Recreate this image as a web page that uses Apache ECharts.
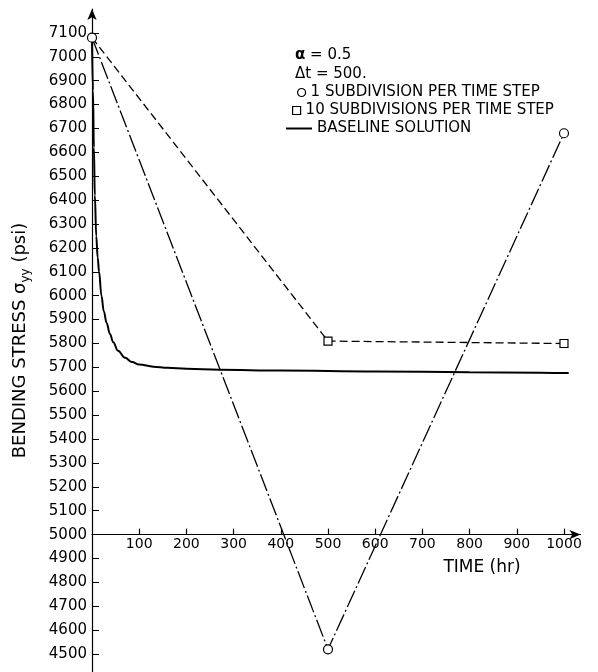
<!DOCTYPE html>
<html>
<head>
<meta charset="utf-8">
<script src="https://cdn.jsdelivr.net/npm/echarts@6/dist/echarts.min.js"></script>
<style>
  html, body { margin: 0; padding: 0; background: #fff; }
  #chart { width: 598px; height: 672px; }
</style>
</head>
<body>
<div id="chart"></div>
<script>
// Time levels (hr) of the coarse time steps
const timeSteps = [0, 500, 1000];
// Bending stress (psi) with 1 subdivision per time step
const oneSubdivision = [7080, 4520, 6680];
// Bending stress (psi) with 10 subdivisions per time step
const tenSubdivisions = [7080, 5810, 5800];

// Baseline (reference) solution
const baselineTime = [0, 2, 4, 6, 9, 12, 15, 20, 25, 31, 38, 45, 55, 70, 85, 100, 130, 160, 200, 270, 400, 600, 800, 1010];
const baselineStress = [7080, 6860, 6620, 6420, 6250, 6160, 6100, 6000, 5935, 5886, 5840, 5805, 5770, 5740, 5722, 5712, 5703, 5698, 5694, 5690, 5687, 5683, 5680, 5676];

// Tick labels
const xTickValues = [100, 200, 300, 400, 500, 600, 700, 800, 900, 1000];
const yTickValues = [4500, 4600, 4700, 4800, 4900, 5000, 5100, 5200, 5300, 5400, 5500, 5600, 5700, 5800, 5900,
                     6000, 6100, 6200, 6300, 6400, 6500, 6600, 6700, 6800, 6900, 7000, 7100];

const seriesNames = ['1 SUBDIVISION PER TIME STEP', '10 SUBDIVISIONS PER TIME STEP', 'BASELINE SOLUTION'];
const paramLines = ['{a|α} = 0.5', 'Δt = 500.'];
const xAxisTitle = 'TIME (hr)';
const yAxisTitle = '{n|BENDING STRESS σ}{s|yy}{n| (psi)}';

// Axis ranges and the stress level where the time axis is drawn
const xMin = 0, xMax = 1035;
const yMin = 4425, yMax = 7200;
const timeAxisLevel = 5000;

const FONT = 'DejaVu Sans';
const INK = '#000';

const gridTop = 9, gridBottom = 0, chartHeight = 672;
const gridHeight = chartHeight - gridTop - gridBottom;
// shift the time axis up from the grid bottom to the 5000 psi level
const timeAxisOffset = -((timeAxisLevel - yMin) / (yMax - yMin)) * gridHeight;

const zip = (xs, ys) => xs.map((x, i) => [x, ys[i]]);
const plain = v => String(v);

const chart = echarts.init(document.getElementById('chart'), null, { renderer: 'canvas' });

const hollow = { color: '#fff', borderColor: INK, borderWidth: 1.2 };
const legendText = { fontFamily: FONT, fontSize: 15, color: INK, lineHeight: 14 };

chart.setOption({
  backgroundColor: '#fff',
  animation: false,
  textStyle: { fontFamily: FONT, color: INK },
  grid: { left: 92, right: 17.5, top: gridTop, bottom: gridBottom, containLabel: false },
  title: {
    text: paramLines.join('\n'),
    left: 295, top: 46, padding: 0,
    textStyle: {
      fontFamily: FONT, fontSize: 15, fontWeight: 'normal', color: INK, lineHeight: 19,
      rich: { a: { fontFamily: FONT, fontSize: 15, fontWeight: 'bold', color: INK, lineHeight: 19 } }
    }
  },
  legend: [
    {
      left: 297, top: 85, orient: 'vertical', selectedMode: false, padding: 0,
      itemWidth: 8, itemHeight: 8, textStyle: legendText,
      data: [{ name: seriesNames[0], icon: 'circle', itemStyle: hollow }]
    },
    {
      left: 292, top: 103, orient: 'vertical', selectedMode: false, padding: 0,
      itemWidth: 8, itemHeight: 8, textStyle: legendText,
      data: [{ name: seriesNames[1], icon: 'path://M0,0H10V10H0Z', itemStyle: hollow }]
    },
    {
      left: 286, top: 121, orient: 'vertical', selectedMode: false, padding: 0,
      itemWidth: 26, itemHeight: 8, textStyle: legendText,
      data: [{ name: seriesNames[2], icon: 'path://M0,0H26V2H0Z', itemStyle: { color: INK, borderWidth: 0 } }]
    }
  ],
  graphic: [
    {
      type: 'text', x: 482, y: 568,
      style: { text: xAxisTitle, fontFamily: FONT, fontSize: 17, fill: INK, align: 'center', verticalAlign: 'middle' }
    }
  ],
  xAxis: {
    type: 'value', min: xMin, max: xMax,
    offset: timeAxisOffset,
    axisLine: { onZero: false, lineStyle: { color: INK, width: 1.2 }, symbol: ['none', 'arrow'], symbolSize: [7, 11] },
    axisTick: { inside: true, length: 6, lineStyle: { color: INK, width: 1.2 }, customValues: xTickValues },
    axisLabel: { fontFamily: FONT, fontSize: 14, color: INK, margin: 3, customValues: xTickValues, formatter: plain },
    splitLine: { show: false }
  },
  yAxis: {
    type: 'value', min: yMin, max: yMax,
    name: yAxisTitle, nameLocation: 'middle', nameGap: 60, nameRotate: 90,
    nameTextStyle: {
      fontFamily: FONT, color: INK,
      rich: {
        n: { fontFamily: FONT, fontSize: 18, color: INK, lineHeight: 24, verticalAlign: 'middle' },
        s: { fontFamily: FONT, fontSize: 12, color: INK, lineHeight: 13, verticalAlign: 'bottom' }
      }
    },
    axisLine: { show: true, lineStyle: { color: INK, width: 1.2 }, symbol: ['none', 'arrow'], symbolSize: [7, 11] },
    axisTick: { inside: true, length: 7, lineStyle: { color: INK, width: 1 }, customValues: yTickValues },
    axisLabel: { fontFamily: FONT, fontSize: 15, color: INK, margin: 5, customValues: yTickValues, formatter: plain },
    splitLine: { show: false }
  },
  series: [
    {
      name: seriesNames[2], type: 'line', z: 2,
      data: zip(baselineTime, baselineStress),
      showSymbol: false, symbol: 'none',
      smooth: 0.4, smoothMonotone: 'x',
      lineStyle: { color: INK, width: 2 }
    },
    {
      name: seriesNames[1], type: 'line', z: 3,
      data: zip(timeSteps, tenSubdivisions).map((p, i) => i === 0 ? { value: p, symbol: 'none' } : p),
      symbol: 'rect', symbolSize: 8,
      itemStyle: hollow,
      lineStyle: { color: INK, width: 1.3, type: [8, 4] }
    },
    {
      name: seriesNames[0], type: 'line', z: 4,
      data: zip(timeSteps, oneSubdivision),
      symbol: 'circle', symbolSize: 9,
      itemStyle: hollow,
      lineStyle: { color: INK, width: 1.3, type: [18, 3, 2, 3] }
    }
  ]
});
</script>
</body>
</html>
